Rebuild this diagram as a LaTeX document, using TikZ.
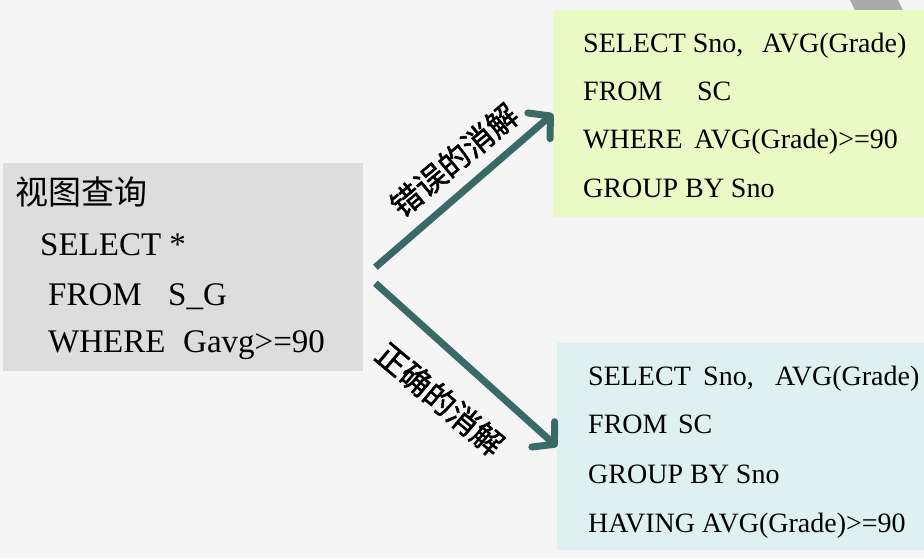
\documentclass[tikz,border=0pt]{standalone}
\usepackage{fontspec}
\setmainfont{Liberation Serif}
\newfontfamily\cjk{Noto Sans CJK SC}
\newfontfamily\cjkb[FakeBold=1.6]{Noto Sans CJK SC}
\usetikzlibrary{arrows.meta}
\definecolor{bg}{HTML}{F4F5F4}
\definecolor{graybox}{HTML}{DCDDDC}
\definecolor{greenbox}{HTML}{EBF9C4}
\definecolor{cyanbox}{HTML}{DEF1F0}
\definecolor{arrowc}{HTML}{3A6A66}
\definecolor{band}{HTML}{AAAAAA}
\tikzset{
  boxL/.style={fill=graybox, draw=none, inner sep=0, anchor=north west},
  sqlL/.style={anchor=base west, inner sep=0, font=\fontsize{33}{33}\selectfont},
  cjkL/.style={anchor=base west, inner sep=0, font=\cjk\fontsize{33}{33}\selectfont},
  sqlR/.style={anchor=base west, inner sep=0, font=\fontsize{28}{28}\selectfont},
  lab/.style={font=\cjkb\fontsize{31}{31}\selectfont, inner sep=0},
  conn/.style={arrowc, line width=7pt, -{Straight Barb[length=15pt,width=34pt,round]}}
}
\begin{document}
\begin{tikzpicture}[x=1pt,y=-1pt]
\fill[bg] (0,0) rectangle (924,558);
\useasboundingbox (0,0) rectangle (924,558);
\fill[band] (850,0) -- (898,0) -- (910,25) -- (862,25) -- cycle;
% boxes
\node[boxL, minimum width=360pt, minimum height=208pt] (q) at (3,163) {};
\node[boxL, fill=greenbox, minimum width=372pt, minimum height=207pt] (g) at (553,10) {};
\node[boxL, fill=cyanbox, minimum width=368pt, minimum height=207pt] (c) at (557,343) {};
% left text
\node[cjkL] (t0) at (15,204) {视图查询};
\node[sqlL] (t1) at (40,255) {SELECT *};
\node[sqlL] (t2) at (48,305) {\makebox[120pt][l]{FROM}S\_G};
\node[sqlL] (t3) at (48,352) {\makebox[135pt][l]{WHERE}Gavg>=90};
% green text
\node[sqlR] (g1) at (583,52) {\makebox[179pt][l]{SELECT Sno,}AVG(Grade)};
\node[sqlR] (g2) at (583,100) {\makebox[114pt][l]{FROM}SC};
\node[sqlR] (g3) at (583,148) {\makebox[111pt][l]{WHERE}AVG(Grade)>=90};
\node[sqlR] (g4) at (583,197) {GROUP BY Sno};
% cyan text
\node[sqlR] (c1) at (588,385) {\makebox[115pt][l]{SELECT}\makebox[72pt][l]{Sno,}AVG(Grade)};
\node[sqlR] (c2) at (588,433) {\makebox[90pt][l]{FROM}SC};
\node[sqlR] (c3) at (588,483) {GROUP BY Sno};
\node[sqlR] (c4) at (588,532) {HAVING AVG(Grade)>=90};
% arrows
\draw[conn] ([shift={(12,0)}]q.east) -- (g.west);
\draw[conn] ([shift={(12,16)}]q.east) -- (c.west);
% labels
\node[lab, rotate=40] (l1) at (454,160) {错误的消解};
\node[lab, rotate=-40] (l2) at (440,399) {正确的消解};
\end{tikzpicture}
\end{document}
